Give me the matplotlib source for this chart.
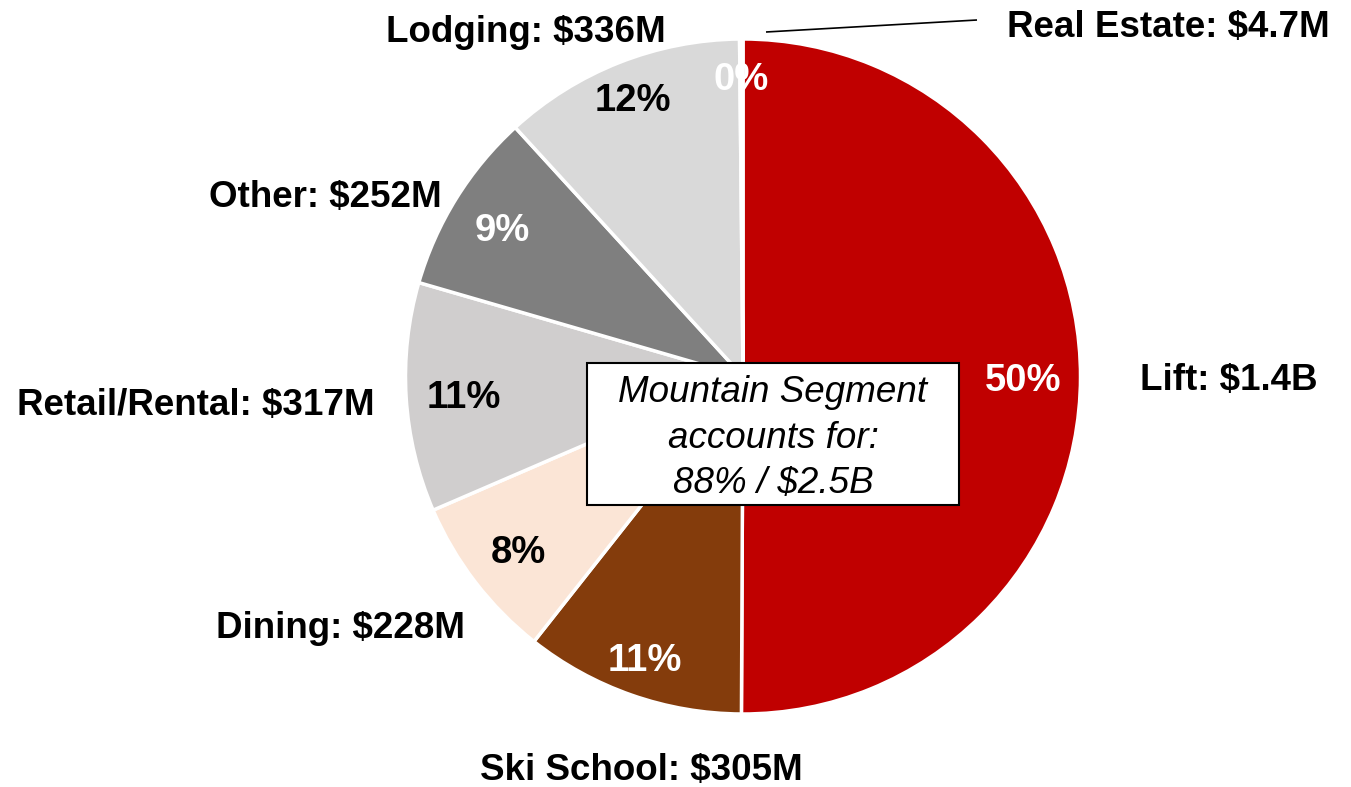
import matplotlib
matplotlib.use("Agg")
import matplotlib.pyplot as plt
import numpy as np
from matplotlib import font_manager
from matplotlib.patches import Rectangle

# ---- data ----
categories = ["Lift", "Ski School", "Dining", "Retail/Rental", "Other", "Lodging", "Real Estate"]
values_m = [1447, 305, 228, 317, 252, 336, 4.7]
value_labels = ["$1.4B", "$305M", "$228M", "$317M", "$252M", "$336M", "$4.7M"]
box_lines = ["Mountain Segment", "accounts for:", "88% / $2.5B"]

# ---- style ----
colors = ["#C00000", "#843C0C", "#FBE5D6", "#D0CECE", "#7F7F7F", "#D9D9D9", "#F2F2F2"]
pct_colors = ["white", "white", "black", "black", "white", "black", "white"]
pct_radius = [0.83, 0.88, 0.84, 0.83, 0.84, 0.89, 0.89]

names = {f.name for f in font_manager.fontManager.ttflist}
BASE = "Liberation Sans" if "Liberation Sans" in names else "DejaVu Sans"
plt.rcParams["font.family"] = [BASE, "DejaVu Sans"]

W, H = 1351, 787
fig = plt.figure(figsize=(W / 100, H / 100), dpi=100)
ax = fig.add_axes([0, 0, 1, 1])

def Y(y):
    return H - y

cx, cy, R = 743, 376.5, 337.5

wedges, texts, autotexts = ax.pie(
    values_m,
    colors=colors,
    center=(cx, Y(cy)),
    radius=R,
    startangle=90,
    counterclock=False,
    autopct="%1.0f%%",
    pctdistance=0.85,
    wedgeprops=dict(edgecolor="white", linewidth=2.5),
    textprops=dict(fontsize=27.5, fontweight="bold"),
)
for w, t, col, r in zip(wedges, autotexts, pct_colors, pct_radius):
    ang = np.deg2rad((w.theta1 + w.theta2) / 2)
    t.set_position((cx + r * R * np.cos(ang), Y(cy) + r * R * np.sin(ang)))
    t.set_color(col)
    t.set_ha("center")
    t.set_va("center_baseline")

ax.set_xlim(0, W)
ax.set_ylim(0, H)
ax.set_aspect("auto")
ax.axis("off")

# outer labels (center x, baseline y in pixels from top)
label_pos = {
    "Lift": (1229, 390),
    "Ski School": (641, 780),
    "Dining": (341, 638),
    "Retail/Rental": (196, 415),
    "Other": (325, 207),
    "Lodging": (526, 42),
    "Real Estate": (1168, 37),
}
for cat, val in zip(categories, value_labels):
    x, y = label_pos[cat]
    ax.text(x, Y(y), f"{cat}: {val}", ha="center", va="baseline",
            fontsize=26.5, fontweight="bold", color="black")

# leader line for Real Estate
ax.plot([766, 977], [Y(32), Y(20)], color="black", lw=1.2, solid_capstyle="butt")

# Center box
ax.add_patch(Rectangle((587, Y(505)), 959 - 587, 505 - 363, facecolor="white",
                       edgecolor="black", linewidth=1.5, zorder=5))
ax.text(773, Y(438), "\n".join(box_lines), ha="center", va="center",
        fontsize=26.5, fontstyle="italic", linespacing=1.38, zorder=6)

fig.savefig("out.png", dpi=100)
